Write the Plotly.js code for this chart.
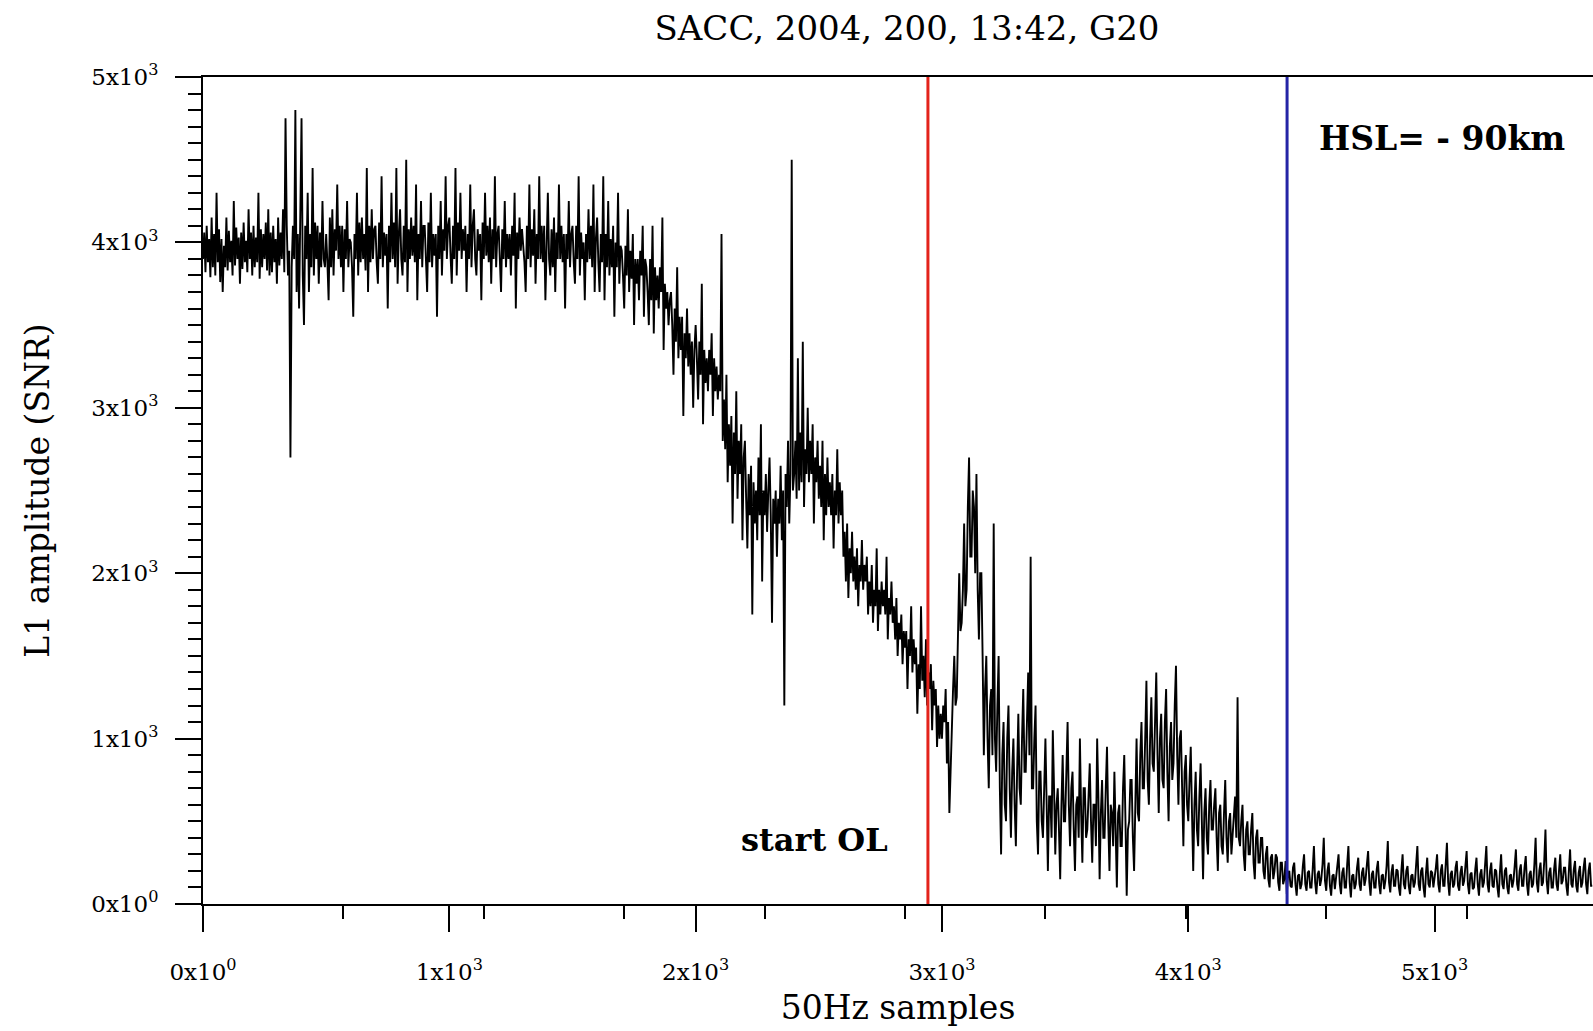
<!DOCTYPE html>
<html>
<head>
<meta charset="utf-8">
<script src="https://cdn.plot.ly/plotly-3.0.1.min.js"></script>
<style>html,body{margin:0;padding:0;background:#fff;}#chart{width:1593px;height:1031px;}</style>
</head>
<body>
<div id="chart"></div>
<script>
// ---- data ----
const chartTitle = 'SACC, 2004, 200, 13:42, G20';
const xTitle = '50Hz samples';
const yTitle = 'L1 amplitude (SNR)';
const xTickVals = [0, 1000, 2000, 3000, 4000, 5000];
const xTickText = ['0x10<sup>0</sup>', '1x10<sup>3</sup>', '2x10<sup>3</sup>', '3x10<sup>3</sup>', '4x10<sup>3</sup>', '5x10<sup>3</sup>'];
const yTickVals = [0, 1000, 2000, 3000, 4000, 5000];
const yTickText = ['0x10<sup>0</sup>', '1x10<sup>3</sup>', '2x10<sup>3</sup>', '3x10<sup>3</sup>', '4x10<sup>3</sup>', '5x10<sup>3</sup>'];
const eventLabels = ['start OL', 'HSL= - 90km'];
const eventSamples = [2943, 4401];
const sampleStep = 5; // one value every 5 samples, starting at sample 0 (one row = 100 samples)
const amplitude = [
3900,4060,3820,4100,3880,4020,3790,4150,3850,4050,3800,4300,3880,4080,3760,4020,3700,3980,3850,4150,
3830,4070,3880,4010,3800,4250,3860,4090,3900,4030,3750,4060,3840,4120,3880,4010,3820,4200,3900,4060,
3800,4100,3850,4030,3880,4300,3780,4080,3850,4050,3900,4120,3830,4200,3800,4060,3820,4100,3880,4020,
3750,4150,3860,4060,3900,4200,3820,4750,4100,3800,3950,2700,3850,4100,3900,4800,3700,4050,3600,4300,
4750,3800,3500,4100,3900,4300,3700,4050,3850,4450,3800,4120,3900,4100,3750,4060,3850,4250,3900,3850,
4050,3880,3650,4150,3850,4200,3800,4080,3950,4350,3900,4100,3850,4100,3700,4080,3900,4250,3850,4020,
4000,3850,3550,4050,3900,4300,3800,4120,3880,4150,3900,4050,3830,4450,3700,4100,3880,4200,3900,4080,
4100,3880,3750,4120,3900,4400,3850,4060,3920,4050,3600,4100,3880,4300,3900,4120,3850,4450,3750,4050,
4200,3900,3800,4100,3880,4500,3700,4080,3900,4150,3920,4100,3880,4350,3650,4050,3900,4250,3850,4100,
4100,3900,3700,4120,3880,4300,3850,4050,3920,4050,3550,4100,3900,4250,3800,4080,3950,4400,3900,4100,
4150,3920,3750,4100,3900,4450,3800,4120,3950,4300,3900,4080,3950,4100,3700,4050,3900,4350,3850,4100,
4200,3900,3800,4080,3950,4050,3650,4120,3900,4300,3920,4100,3880,4150,3750,4080,3900,4400,3850,4050,
4100,3900,3700,4080,3900,4250,3850,4050,3900,4050,3800,4100,3920,4300,3600,4060,3900,4150,3950,4080,
4000,3880,3700,4100,3900,4350,3850,4080,3920,4200,3750,4050,3900,4400,3900,4100,3880,4100,3650,4050,
4300,3900,3800,4080,3850,4150,3700,4060,3900,4350,3900,4100,3880,4050,3600,4050,3900,4250,3850,4050,
4100,3880,3750,4100,3900,4400,3800,4060,3900,4000,3650,4050,3880,4200,3900,4100,3850,4350,3700,4020,
4150,3880,3700,4050,3880,4400,3650,4050,3850,4250,3800,4020,3850,4100,3550,4000,3850,4300,3750,3980,
3950,3800,3600,3980,3800,4200,3700,3950,3780,4050,3500,3900,3750,3900,3650,3950,3800,4100,3550,3900,
3850,3700,3500,3900,3650,4100,3450,3850,3650,3800,3600,3850,3700,4150,3350,3750,3600,3700,3500,3650,
3700,3500,3200,3600,3400,3850,3300,3550,3350,3550,2950,3450,3300,3600,3250,3450,3200,3400,3000,3350,
3500,3300,3050,3400,3200,3750,2900,3350,3150,3300,3100,3350,3200,3450,2950,3300,3100,3250,3050,3200,
3100,4050,2800,3050,2750,3200,2550,2900,2650,2950,2300,2850,2600,3100,2450,2800,2600,2900,2200,2700,
2800,2450,2150,2600,2350,2650,1750,2550,2300,2500,2200,2700,2350,2900,1950,2500,2350,2600,2250,2500,
2700,2350,1700,2450,2300,2500,2100,2450,2300,2650,2200,2500,1200,2600,2400,2800,2300,2600,4500,2500,
2600,2800,2450,3300,2500,2850,2550,3400,2400,2750,2600,3000,2550,2800,2600,2900,2300,2700,2550,2800,
2450,2650,2400,2800,2200,2600,2350,2700,2400,2550,2350,2600,2150,2500,2350,2750,2300,2550,2350,2500,
2100,2250,1950,2300,1850,2150,2000,2250,1950,2100,1900,2150,1800,2050,1950,2200,1900,2050,1950,2100,
1750,1950,1800,2050,1700,1900,1800,2150,1650,1900,1750,1950,1800,1900,1750,2100,1600,1850,1750,1950,
1700,1800,1600,1850,1500,1700,1600,1750,1450,1650,1550,1650,1300,1600,1500,1800,1400,1600,1450,1550,
1150,1450,1300,1800,1350,1500,1250,1600,1200,1400,1300,1450,1050,1350,1200,1300,950,1200,1000,1150,
1000,1200,1100,1300,850,1100,550,800,1100,1300,1500,1200,1250,1600,2000,1650,1700,1900,2300,1800,
1900,2400,2700,2100,2100,2500,2400,2000,2600,1900,1600,2000,2000,1500,900,1300,1500,1000,700,1200,
1300,900,2300,1000,800,1200,1500,700,300,900,1100,600,500,1000,1200,700,400,800,1000,600,
350,800,1150,700,600,1000,1300,800,800,1100,1400,900,2100,700,700,1000,1200,500,300,800,
800,500,400,700,1000,600,200,650,650,400,1050,700,300,600,700,450,150,600,900,500,
500,800,1100,600,350,700,800,450,200,600,650,400,1000,550,250,700,700,400,450,650,
850,500,250,600,600,350,1000,650,150,550,750,400,400,700,950,500,200,600,550,350,
800,450,100,550,600,350,350,700,900,500,50,450,500,750,750,400,200,600,1000,550,
500,900,1100,700,700,1000,1350,750,600,1000,1250,850,800,1100,1400,900,550,1000,1150,750,
700,1100,1300,800,500,950,1100,750,850,1200,1440,900,600,1000,1050,700,350,800,900,600,
500,750,950,550,200,600,800,450,350,650,850,500,150,550,700,400,300,600,750,450,
450,600,700,400,200,550,600,350,300,550,750,400,250,500,550,300,400,550,650,400,
1250,400,350,500,600,300,200,450,500,300,300,450,550,250,150,400,450,250,250,400,
400,200,150,300,350,150,100,280,300,150,200,300,280,130,80,250,250,120,150,260,
60,180,200,110,100,220,250,120,50,170,180,90,120,230,300,120,80,190,200,100,
100,210,350,130,60,180,200,110,150,240,400,140,80,200,250,110,50,170,180,90,
150,230,300,120,60,190,220,100,100,240,350,130,40,170,180,90,120,220,280,120,
80,190,220,110,150,240,320,130,50,180,200,100,100,210,260,120,60,170,180,90,
140,230,380,130,70,190,240,110,110,210,200,100,50,200,300,120,90,200,230,110,
60,170,180,100,130,240,350,120,80,200,220,100,40,190,280,120,100,200,190,100,
150,220,300,120,70,200,240,110,110,240,370,130,50,180,200,100,120,220,260,110,
80,190,230,110,140,230,320,120,60,180,190,90,100,210,280,120,50,180,210,100,
130,240,350,120,70,200,250,110,100,210,200,100,40,190,300,120,90,200,220,100,
60,170,180,100,140,230,330,120,80,200,240,110,110,220,290,120,50,180,200,100,
120,240,400,130,70,200,250,110,130,260,450,140,60,190,220,100,100,210,280,120,
80,200,300,120,140,220,220,110,50,200,330,120,100,210,260,110,70,190,230,100,
130,220,280,120,60,200,250,110,110
];
// ---- chart ----
const samples = amplitude.map((_, i) => i * sampleStep);
const serif = 'DejaVu Serif, Liberation Serif, serif';
const trace = {
  x: samples, y: amplitude, type: 'scatter', mode: 'lines',
  line: {color: '#000', width: 1.9}, hoverinfo: 'skip', showlegend: false
};
const eventColors = ['#e3231b', '#2424a6'];
const shapes = eventSamples.map((s, i) => ({
  type: 'line', xref: 'x', yref: 'paper', x0: s, x1: s, y0: 0, y1: 1,
  line: {color: eventColors[i], width: 3}, layer: 'above'
}));
const annotations = [
  {text: '<b>' + eventLabels[0] + '</b>', xref: 'x', yref: 'y', x: eventSamples[0] - 765, y: 385,
   xanchor: 'left', yanchor: 'middle', showarrow: false, font: {family: serif, size: 32, color: '#000'}},
  {text: '<b>' + eventLabels[1] + '</b>', xref: 'x', yref: 'y', x: eventSamples[1] + 120, y: 4630,
   xanchor: 'left', yanchor: 'middle', showarrow: false, font: {family: serif, size: 33, color: '#000'}}
];
const layout = {
  width: 1593, height: 1031,
  margin: {l: 203, r: 0, t: 77, b: 127, pad: 0},
  paper_bgcolor: '#fff', plot_bgcolor: '#fff',
  showlegend: false,
  title: {text: chartTitle, font: {family: serif, size: 34, color: '#000'},
          x: 907 / 1593, xanchor: 'center', xref: 'container', y: 1 - 28 / 1031, yanchor: 'middle', yref: 'container'},
  xaxis: {
    range: [0, 5643], showgrid: false, zeroline: false,
    showline: true, linecolor: '#000', linewidth: 2, mirror: true,
    tickmode: 'array', tickvals: xTickVals, ticktext: xTickText,
    ticks: 'outside', ticklen: 26, tickwidth: 2, tickcolor: '#000',
    ticklabelstandoff: 20,
    tickfont: {family: serif, size: 23, color: '#000'},
    minor: {tickmode: 'linear', tick0: 0, dtick: 570, ticks: 'outside', ticklen: 13, tickwidth: 2, tickcolor: '#000', showgrid: false},
    title: {text: xTitle, font: {family: serif, size: 33, color: '#000'}, standoff: 12}
  },
  yaxis: {
    range: [0, 5000], showgrid: false, zeroline: false,
    showline: true, linecolor: '#000', linewidth: 2,
    tickmode: 'array', tickvals: yTickVals, ticktext: yTickText,
    ticks: 'outside', ticklen: 26, tickwidth: 2, tickcolor: '#000',
    ticklabelstandoff: 12,
    tickfont: {family: serif, size: 23, color: '#000'},
    minor: {tickmode: 'linear', tick0: 0, dtick: 100, ticks: 'outside', ticklen: 13, tickwidth: 2, tickcolor: '#000', showgrid: false},
    title: {text: yTitle, font: {family: serif, size: 33, color: '#000'}, standoff: 32}
  },
  shapes: shapes,
  annotations: annotations
};
Plotly.newPlot('chart', [trace], layout, {displayModeBar: false, staticPlot: true});
</script>
</body>
</html>
